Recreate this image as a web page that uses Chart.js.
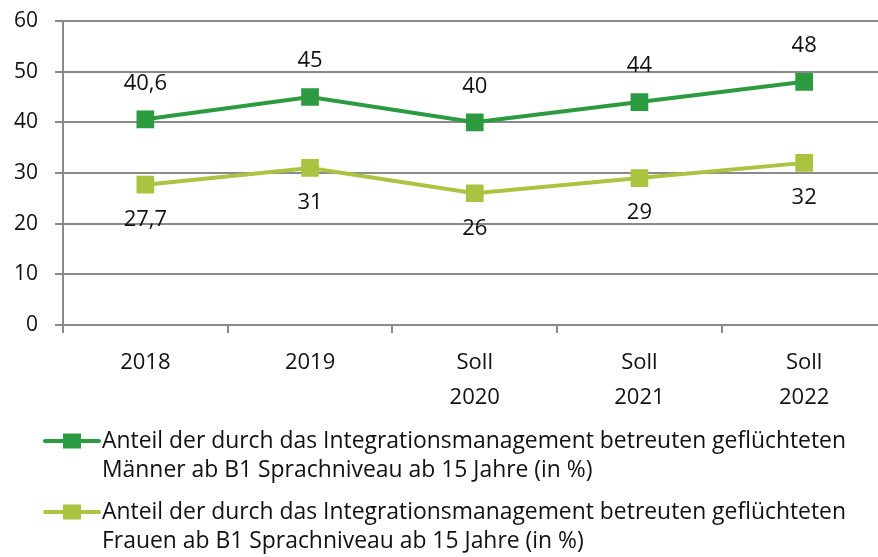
<!DOCTYPE html>
<html>
<head>
<meta charset="utf-8">
<script src="https://cdn.jsdelivr.net/npm/chart.js@4/dist/chart.umd.min.js"></script>
<style>
  html, body { margin: 0; padding: 0; overflow: hidden; background: #fff; }
  #wrap { position: relative; width: 899px; height: 557px; }
</style>
</head>
<body>
<div id="wrap"><canvas id="c" width="899" height="557"></canvas></div>
<script>
// Kategorien (Jahre) und Werte in Prozent
const categories = ['2018', '2019', ['Soll', '2020'], ['Soll', '2021'], ['Soll', '2022']];
const yTicks = [0, 10, 20, 30, 40, 50, 60];
const maennerValues = [40.6, 45, 40, 44, 48];
const frauenValues = [27.7, 31, 26, 29, 32];
const maennerLegend = ['Anteil der durch das Integrationsmanagement betreuten geflüchteten',
                       'Männer ab B1 Sprachniveau ab 15 Jahre (in %)'];
const frauenLegend = ['Anteil der durch das Integrationsmanagement betreuten geflüchteten',
                      'Frauen ab B1 Sprachniveau ab 15 Jahre (in %)'];

const DARK = '#2c9a3f';
const LIGHT = '#a9c440';
const GRID = '#8a8a8a';
const FONT = "'Open Sans', 'DejaVu Sans', sans-serif";

const fmt = v => String(v).replace('.', ',');

// Wertebeschriftungen: Männer oberhalb, Frauen unterhalb der Punkte
const valueLabels = {
  id: 'valueLabels',
  afterDatasetsDraw(chart) {
    const ctx = chart.ctx;
    ctx.save();
    ctx.font = '22px ' + FONT;
    ctx.fillStyle = '#111';
    ctx.textAlign = 'center';
    ctx.textBaseline = 'middle';
    chart.data.datasets.forEach((ds, i) => {
      const meta = chart.getDatasetMeta(i);
      meta.data.forEach((pt, j) => {
        const dy = i === 0 ? -36 : 35;
        ctx.fillText(fmt(ds.data[j]), pt.x, pt.y + dy);
      });
    });
    ctx.restore();
  }
};

// Legende unterhalb der Achse: Linie mit Quadrat, zweizeiliger Text
const lineLegend = {
  id: 'lineLegend',
  afterDraw(chart) {
    const ctx = chart.ctx;
    const top = chart.chartArea.bottom + 116;
    ctx.save();
    chart.data.datasets.forEach((ds, i) => {
      const y = top + i * 71;
      ctx.strokeStyle = ds.borderColor;
      ctx.lineWidth = 4;
      ctx.lineCap = 'round';
      ctx.beginPath();
      ctx.moveTo(45, y);
      ctx.lineTo(99, y);
      ctx.stroke();
      ctx.fillStyle = ds.borderColor;
      ctx.fillRect(63, y - 7.5, 18, 15);
      ctx.fillStyle = '#111';
      ctx.font = '22.9px ' + FONT;
      ctx.textAlign = 'left';
      ctx.textBaseline = 'middle';
      ds.legendLines.forEach((t, k) => ctx.fillText(t, 102, y + k * 29));
    });
    ctx.restore();
  }
};

new Chart(document.getElementById('c'), {
  type: 'line',
  data: {
    labels: categories,
    datasets: [
      {
        label: maennerLegend.join(' '),
        legendLines: maennerLegend,
        data: maennerValues,
        borderColor: DARK,
        backgroundColor: DARK,
        borderWidth: 4,
        pointStyle: 'rect',
        pointRadius: 12.5,
        pointBorderWidth: 0,
        tension: 0
      },
      {
        label: frauenLegend.join(' '),
        legendLines: frauenLegend,
        data: frauenValues,
        borderColor: LIGHT,
        backgroundColor: LIGHT,
        borderWidth: 4,
        pointStyle: 'rect',
        pointRadius: 12.5,
        pointBorderWidth: 0,
        tension: 0
      }
    ]
  },
  options: {
    responsive: false,
    devicePixelRatio: 1,
    animation: false,
    layout: { padding: { top: 21, left: 0, right: 0, bottom: 142 } },
    plugins: { legend: { display: false }, tooltip: { enabled: false } },
    scales: {
      x: {
        offset: true,
        grid: { display: true, drawOnChartArea: false, offset: true, color: GRID, lineWidth: 2, tickLength: 8 },
        border: { display: true, color: GRID, width: 2 },
        ticks: {
          color: '#111',
          font: { family: FONT, size: 22, lineHeight: 1.6 },
          padding: 12,
          maxRotation: 0,
          autoSkip: false
        },
        afterFit(scale) { scale.height = 90; }
      },
      y: {
        min: 0,
        max: 60,
        afterBuildTicks(scale) { scale.ticks = yTicks.map(v => ({ value: v })); },
        grid: { color: GRID, lineWidth: 2, tickLength: 8 },
        border: { display: true, color: GRID, width: 2 },
        ticks: {
          color: '#111',
          font: { family: FONT, size: 21 },
          padding: 17
        },
        afterFit(scale) {
          scale.width = 63;
          scale.paddingTop = 0;
          scale.paddingBottom = 0;
        }
      }
    }
  },
  plugins: [valueLabels, lineLegend]
});
</script>
</body>
</html>
